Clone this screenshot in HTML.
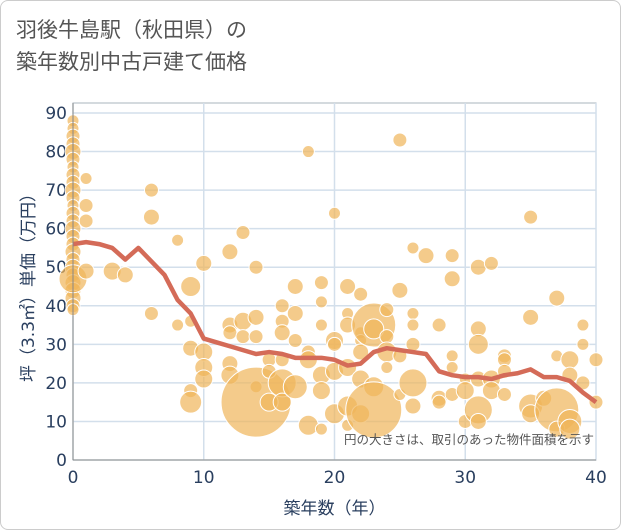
<!DOCTYPE html>
<html><head><meta charset="utf-8">
<style>
html,body{margin:0;padding:0;background:#fff;}
body{width:621px;height:530px;overflow:hidden;font-family:"DejaVu Sans","Noto Sans CJK JP",sans-serif;}
.card{position:absolute;left:0;top:0;width:619px;height:528px;border:1px solid #ccc;border-radius:8px;}
.title{position:absolute;left:16px;top:14px;font-size:21px;line-height:32px;color:#555;font-family:"DejaVu Sans","Noto Sans CJK JP",sans-serif;}
svg{position:absolute;left:0;top:0;font-family:"DejaVu Sans","Noto Sans CJK JP",sans-serif;}
</style></head>
<body>
<div class="card"></div>
<div class="title">羽後牛島駅（秋田県）の<br>築年数別中古戸建て価格</div>
<svg id="chart" width="621" height="530"></svg>
<script>
const xTicks=[0,10,20,30,40];
const yTicks=[0,10,20,30,40,50,60,70,80,90];
const lineYears=[0,1,2,3,4,5,6,7,8,9,10,11,12,13,14,15,16,17,18,19,20,21,22,23,24,25,26,27,28,29,30,31,32,33,34,35,36,37,38,39,40];
const lineValues=[56,56.5,56,55,52,55,51.5,48,41.5,38,31.5,30.5,29.5,28.5,27.5,28,27.5,26.5,26.5,26.5,26,24.5,25,28,29,28.5,28,27.5,23,22,21.5,21.5,21,22,22.5,23.5,21.5,21.5,20.5,17.5,15];
const bubbleAges=[0,0,0,0,0,0,0,0,0,0,0,0,0,0,0,0,0,0,0,0,0,0,0,0,0,0,0,1,1,1,1,3,4,6,6,6,8,8,9,9,9,9,9,10,10,10,10,12,12,12,12,12,13,13,13,14,14,14,14,14,15,15,15,16,16,16,16,16,16,17,17,17,17,18,18,18,18,19,19,19,19,19,19,20,20,20,20,20,21,21,21,21,21,21,22,22,22,22,22,22,23,23,23,23,24,24,24,24,25,25,25,25,26,26,26,26,26,26,27,28,28,28,29,29,29,29,29,30,30,30,31,31,31,31,31,31,32,32,32,33,33,33,33,35,35,35,35,36,37,37,37,37,38,38,38,38,39,39,39,40,40];
const bubblePrices=[88,86,84,82,80,78,76,74,72,70,68,66,64,62,60,58,56,54,52,50,48,46,44,42,40,39,47,73,66,62,49,49,48,70,63,38,57,35,45,36,29,18,15,51,28,24,21,54,35,33,25,22,59,36,32,50,37,32,19,15,15,26,23,40,36,33,26,20,15,45,38,31,19,80,28,26,9,46,41,35,22,18,8,64,31,30,23,12,45,38,35,24,14,9,43,33,31,28,21,12,35,34,19,13,39,32,28,24,83,44,27,17,55,38,35,30,20,14,53,35,16,15,53,47,27,24,17,21,18,10,50,34,30,21,13,10,51,21,18,27,26,23,17,63,37,14,12,16,42,27,13,8,26,22,10,8,35,30,20,26,15];
const bubbleSizes=[6,6,7,7,8,7,6,7,7,8,7,6,7,7,8,7,7,8,7,8,7,8,8,8,7,6,14,6,7,7,8,9,8,7,8,7,6,6,10,6,8,7,11,8,9,9,9,8,8,7,8,9,7,9,7,7,8,7,6,35,9,7,7,7,7,8,7,14,9,8,8,7,12,6,7,9,10,7,6,6,9,9,6,6,9,7,9,10,8,6,8,9,10,6,7,6,6,8,9,9,22,10,10,28,7,7,10,6,7,8,7,6,6,6,6,7,14,8,8,7,8,7,7,8,6,6,7,6,9,7,8,8,10,8,14,8,7,9,9,7,7,7,7,7,8,12,9,8,8,6,22,8,9,8,12,10,6,6,7,7,7];
const NS='http://www.w3.org/2000/svg';
const svg=document.getElementById('chart');
const L=73,R=596,T=103,B=460;
const xs=v=>L+(v/40)*(R-L);
const ys=v=>B-(v/90)*(B-113);
function mk(tag,attrs,parent){const e=document.createElementNS(NS,tag);for(const k in attrs)e.setAttribute(k,attrs[k]);(parent||svg).appendChild(e);return e;}
const frame=mk('rect',{x:L,y:T,width:R-L,height:B-T,fill:'#fff',stroke:'#aab4be','stroke-width':1});


yTicks.forEach(t=>{
 const g=mk('line',{x1:L,x2:R,y1:ys(t),y2:ys(t),stroke:'#d3dfeb','stroke-width':1.5});
 
 
 const tx=mk('text',{x:L-6,y:ys(t)+6,'text-anchor':'end','font-size':17,fill:'#2a3f5f'});
 tx.textContent=t;
 
 
});
xTicks.forEach(t=>{
 const g=mk('line',{x1:xs(t),x2:xs(t),y1:T,y2:B,stroke:'#d3dfeb','stroke-width':1.5});
 
 
 const tx=mk('text',{x:xs(t),y:B+23,'text-anchor':'middle','font-size':17,fill:'#2a3f5f'});
 tx.textContent=t;
 
 
});
const bg=mk('g',{});


bubbleAges.forEach((a,i)=>{
 const c=mk('circle',{cx:xs(a),cy:ys(bubblePrices[i]),r:bubbleSizes[i],fill:'#f0b55a','fill-opacity':0.7,stroke:'#fff','stroke-width':1},bg);
 
 
});
const pts=lineYears.map((y,i)=>xs(y)+','+ys(lineValues[i])).join(' ');
const pl=mk('polyline',{points:pts,fill:'none',stroke:'#d46b58','stroke-width':4.5,'stroke-linejoin':'round'});


const lx=mk('line',{x1:L,x2:L,y1:T,y2:B,stroke:'#888','stroke-width':1});


const bx=mk('line',{x1:L,x2:R,y1:B,y2:B,stroke:'#888','stroke-width':1});


const note=mk('text',{x:R-2,y:444,'text-anchor':'end','font-size':12.5,fill:'#555'});
note.textContent='円の大きさは、取引のあった物件面積を示す';


const xt=mk('text',{x:(L+R)/2,y:514,'text-anchor':'middle','font-size':17,fill:'#2a3f5f'});
xt.textContent='築年数（年）';


const yt=mk('text',{x:0,y:0,'text-anchor':'middle','font-size':17,fill:'#2a3f5f',transform:'translate(34,'+((T+B)/2+2)+') rotate(-90)'});
yt.textContent='坪（3.3㎡）単価（万円）';


</script>
</body></html>
